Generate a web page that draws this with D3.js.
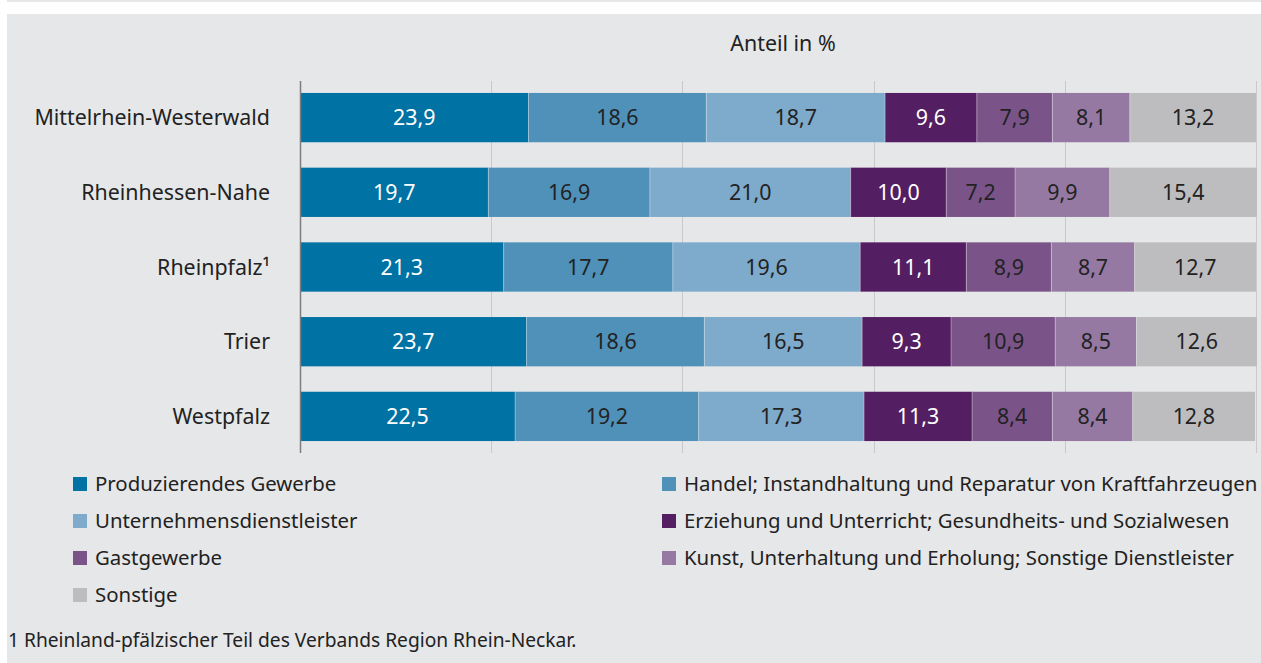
<!DOCTYPE html>
<html>
<head>
<meta charset="utf-8">
<script src="https://cdn.jsdelivr.net/npm/d3@7"></script>
<style>
  html, body { margin: 0; padding: 0; background: #fff; }
  svg { display: block; }
</style>
</head>
<body>
<div id="chart"></div>
<script>
const width = 1261;
const height = 663;
const fontFamily = "'Noto Sans', sans-serif";

// Regions (rows)
const regions = ["Mittelrhein-Westerwald", "Rheinhessen-Nahe", "Rheinpfalz\u00B9", "Trier", "Westpfalz"];

// Sectors (stack order)
const sectors = [
    "Produzierendes Gewerbe",
    "Handel; Instandhaltung und Reparatur von Kraftfahrzeugen",
    "Unternehmensdienstleister",
    "Erziehung und Unterricht; Gesundheits- und Sozialwesen",
    "Gastgewerbe",
    "Kunst, Unterhaltung und Erholung; Sonstige Dienstleister",
    "Sonstige"
];

// Share in % per sector, one value per region
const produzierend = [23.9, 19.7, 21.3, 23.7, 22.5];
const handel = [18.6, 16.9, 17.7, 18.6, 19.2];
const unternehmen = [18.7, 21.0, 19.6, 16.5, 17.3];
const erziehung = [9.6, 10.0, 11.1, 9.3, 11.3];
const gastgewerbe = [7.9, 7.2, 8.9, 10.9, 8.4];
const kunst = [8.1, 9.9, 8.7, 8.5, 8.4];
const sonstige = [13.2, 15.4, 12.7, 12.6, 12.8];

const xTicks = [0, 20, 40, 60, 80, 100];
const axisTitle = "Anteil in %";
const footnote = "1 Rheinland-pfälzischer Teil des Verbands Region Rhein-Neckar.";

const seriesValues = [produzierend, handel, unternehmen, erziehung, gastgewerbe, kunst, sonstige];
const colors = ["#0072a3", "#4f91b9", "#7eaacb", "#541e62", "#7a5488", "#9579a3", "#bdbdc0"];
const labelColors = ["#ffffff", "#222222", "#222222", "#ffffff", "#222222", "#222222", "#222222"];

// Build table for d3.stack
const table = regions.map((r, i) => {
    const row = { region: r };
    sectors.forEach((s, j) => { row[s] = seriesValues[j][i]; });
    return row;
});
const stacked = d3.stack().keys(sectors)(table);

const svg = d3.select("#chart").append("svg")
    .attr("width", width)
    .attr("height", height);

// Panel background
svg.append("rect").attr("x", 7).attr("y", 0).attr("width", width - 7).attr("height", 2).attr("fill", "#e6e7e9");
svg.append("rect").attr("x", 7).attr("y", 14).attr("width", width - 7).attr("height", height - 14).attr("fill", "#e6e7e9");

const x = d3.scaleLinear().domain([0, 100]).range([300, 1256]);
const y = d3.scaleBand().domain(regions).range([81, 453]).paddingInner(0.34).paddingOuter(0.16);

// Gridlines
svg.append("g")
    .selectAll("line")
    .data(xTicks.slice(1))
    .enter()
    .append("line")
    .attr("x1", d => Math.round(x(d)) + 0.5)
    .attr("x2", d => Math.round(x(d)) + 0.5)
    .attr("y1", 81)
    .attr("y2", 453)
    .attr("stroke", "#c9c9cc")
    .attr("stroke-width", 1);

// Axis title
svg.append("text")
    .attr("x", (x(0) + x(100)) / 2 + 5)
    .attr("y", 51)
    .attr("text-anchor", "middle")
    .attr("font-family", fontFamily)
    .attr("font-size", "21.4px")
    .attr("fill", "#222")
    .text(axisTitle);

// Bars
const groups = svg.append("g")
    .selectAll("g")
    .data(stacked)
    .enter()
    .append("g")
    .attr("fill", (d, i) => colors[i]);

groups.selectAll("rect")
    .data(d => d)
    .enter()
    .append("rect")
    .attr("x", d => x(d[0]))
    .attr("y", d => y(d.data.region))
    .attr("width", d => x(d[1]) - x(d[0]))
    .attr("height", y.bandwidth());

// Thin light separators between segments
groups.selectAll("line.sep")
    .data((d, i) => i === 0 ? [] : d)
    .enter()
    .append("line")
    .attr("class", "sep")
    .attr("x1", d => x(d[0]))
    .attr("x2", d => x(d[0]))
    .attr("y1", d => y(d.data.region))
    .attr("y2", d => y(d.data.region) + y.bandwidth())
    .attr("stroke", "#ffffff")
    .attr("stroke-opacity", 0.35)
    .attr("stroke-width", 1);

// Value labels
groups.each(function(series, i) {
    d3.select(this).selectAll("text")
        .data(series)
        .enter()
        .append("text")
        .attr("x", d => (x(d[0]) + x(d[1])) / 2)
        .attr("y", d => y(d.data.region) + y.bandwidth() / 2)
        .attr("dy", "0.36em")
        .attr("text-anchor", "middle")
        .attr("font-family", fontFamily)
        .attr("font-size", "21.4px")
        .attr("fill", labelColors[i])
        .text(d => d3.format(".1f")(d[1] - d[0]).replace(".", ","));
});

// Axis line at 0
svg.append("line")
    .attr("x1", Math.round(x(0)) + 0.5)
    .attr("x2", Math.round(x(0)) + 0.5)
    .attr("y1", 81)
    .attr("y2", 453)
    .attr("stroke", "#7d7d80")
    .attr("stroke-width", 1.5);

// Region labels
svg.append("g")
    .selectAll("text")
    .data(regions)
    .enter()
    .append("text")
    .attr("x", 270)
    .attr("y", d => y(d) + y.bandwidth() / 2)
    .attr("dy", "0.36em")
    .attr("text-anchor", "end")
    .attr("font-family", fontFamily)
    .attr("font-size", "21.4px")
    .attr("fill", "#222")
    .text(d => d);

// Legend, two columns filled row by row
const legend = svg.append("g")
    .selectAll("g")
    .data(sectors)
    .enter()
    .append("g")
    .attr("transform", (d, i) => `translate(${i % 2 === 0 ? 73 : 662},${484 + Math.floor(i / 2) * 37})`);

legend.append("rect")
    .attr("x", 0)
    .attr("y", -7)
    .attr("width", 14)
    .attr("height", 14)
    .attr("fill", (d, i) => colors[i]);

legend.append("text")
    .attr("x", 22)
    .attr("y", 0)
    .attr("dy", "0.36em")
    .attr("font-family", fontFamily)
    .attr("font-size", "20.4px")
    .attr("fill", "#222")
    .text(d => d);

// Footnote
svg.append("text")
    .attr("x", 8)
    .attr("y", 647)
    .attr("font-family", fontFamily)
    .attr("font-size", "19.2px")
    .attr("fill", "#222")
    .text(footnote);
</script>
</body>
</html>
